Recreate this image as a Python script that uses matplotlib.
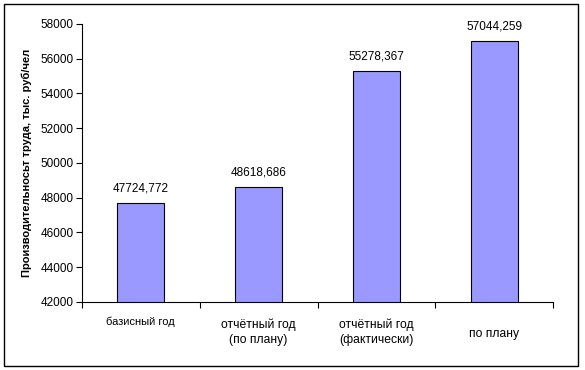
import matplotlib
matplotlib.use("Agg")
import matplotlib.pyplot as plt
from matplotlib.patches import Rectangle
from matplotlib.ticker import FixedLocator

plt.rcParams['font.family'] = ['Liberation Sans', 'DejaVu Sans']

categories = ["базисный год", "отчётный год\n(по плану)", "отчётный год\n(фактически)", "по плану"]
values = [47724.772, 48618.686, 55278.367, 57044.259]
value_labels = ["47724,772", "48618,686", "55278,367", "57044,259"]
yticks = [42000, 44000, 46000, 48000, 50000, 52000, 54000, 56000, 58000]
ylabel = "Производительносьт труда, тыс. руб/чел"

fig = plt.figure(figsize=(5.85, 3.7), dpi=100)
fig.patches.append(Rectangle((4/585, 4/370), 574/585, 362/370, transform=fig.transFigure,
                             fill=False, edgecolor='black', linewidth=1))
ax = fig.add_axes([82/585, 1-302/370, 471/585, 278/370])
x = list(range(len(values)))
ax.bar(x, values, width=0.4, color='#9999FF', edgecolor='black', linewidth=0.8)
ax.set_ylim(42000, 58000)
ax.set_xlim(-0.5, len(values)-0.5)
ax.set_yticks(yticks)
ax.set_yticklabels([str(t) for t in yticks], fontsize=8.5)
ax.spines['top'].set_visible(False)
ax.spines['right'].set_visible(False)
ax.spines['left'].set_linewidth(0.8)
ax.spines['bottom'].set_linewidth(0.8)
ax.xaxis.set_major_locator(FixedLocator([i - 0.5 for i in range(len(values)+1)]))
ax.set_xticklabels([])
ax.tick_params(axis='x', direction='out', length=4, width=0.8)
ax.tick_params(axis='y', direction='out', length=4, width=0.8, pad=2)
for i, (v, lab) in enumerate(zip(values, value_labels)):
    ax.annotate(lab, (i, v), xytext=(0, 6), textcoords='offset points', ha='center', va='bottom', fontsize=8.5)
label_y = [-0.07, -0.11, -0.11, -0.115]
label_fs = [8, 8.7, 8.7, 8.7]
for i, (c, yy, fs) in enumerate(zip(categories, label_y, label_fs)):
    ax.text(i, yy, c, transform=ax.get_xaxis_transform(), ha='center', va='center', fontsize=fs, linespacing=1.3)
ax.set_ylabel(ylabel, fontsize=8, fontweight='bold', labelpad=6)
fig.savefig("out.png", dpi=100)
